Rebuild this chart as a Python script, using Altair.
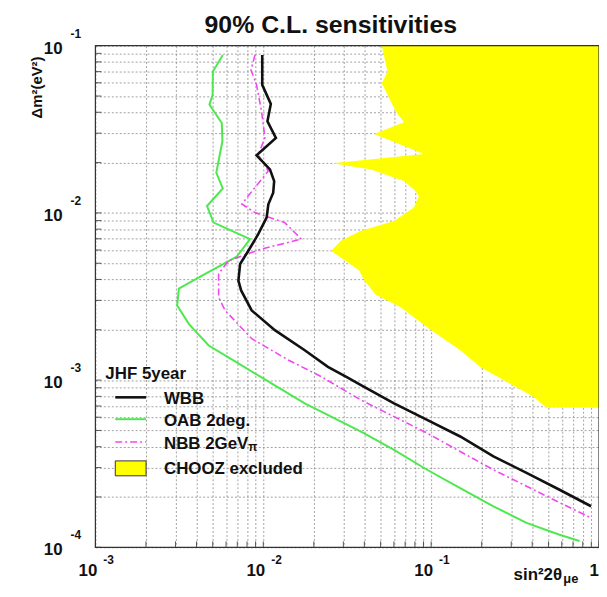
import altair as alt
import pandas as pd

# ---------------- data ----------------
wbb_x = [0.00986, 0.00986, 0.01109, 0.01059, 0.01189, 0.00912, 0.01096, 0.01161, 0.01146,
         0.01072, 0.01047, 0.00933, 0.00815, 0.00728, 0.00711, 0.00738, 0.00853, 0.01172,
         0.01766, 0.02427, 0.03184, 0.0382, 0.0601, 0.0946, 0.149, 0.235, 0.370, 0.582, 0.897]
wbb_y = [0.0881, 0.0583, 0.0448, 0.0353, 0.0281, 0.0221, 0.0182, 0.0155, 0.0132,
         0.01127, 0.00938, 0.00746, 0.00594, 0.00495, 0.00394, 0.00344, 0.00261, 0.00199,
         0.00151, 0.00120, 0.001035, 0.000933, 0.000726, 0.000578, 0.000460, 0.000350,
         0.000279, 0.000221, 0.000176]

oab_x = [0.00574, 0.00501, 0.00499, 0.00478, 0.00566, 0.00571, 0.00525, 0.00574, 0.00462,
         0.00506, 0.00834, 0.00695, 0.00432, 0.00314, 0.00307, 0.00360, 0.00473, 0.00711,
         0.01119, 0.01766, 0.0382, 0.0601, 0.0946, 0.149, 0.235, 0.370, 0.582, 0.766]
oab_y = [0.0881, 0.0700, 0.0509, 0.0444, 0.0345, 0.0269, 0.0174, 0.0140, 0.0110,
         0.00875, 0.00697, 0.00547, 0.00422, 0.00352, 0.00279, 0.00217, 0.00161, 0.00126,
         0.000955, 0.000726, 0.000492, 0.000383, 0.000291, 0.000226, 0.000176, 0.000140,
         0.000119, 0.000109]

nbb_x = [0.00893, 0.00845, 0.00912, 0.00977, 0.01023, 0.00933, 0.01072, 0.00893, 0.00745,
         0.00893, 0.01343, 0.01687, 0.00977, 0.00621, 0.00542, 0.00542, 0.00593, 0.00853,
         0.01406, 0.02213, 0.0382, 0.0601, 0.0946, 0.149, 0.235, 0.370, 0.582, 0.897]
nbb_y = [0.0881, 0.0716, 0.0583, 0.0405, 0.0281, 0.0223, 0.0178, 0.0142, 0.0113,
         0.01005, 0.00875, 0.00697, 0.00608, 0.00518, 0.00432, 0.00313, 0.00261, 0.00177,
         0.00132, 0.00105, 0.000760, 0.000605, 0.000482, 0.000374, 0.000291, 0.000232,
         0.000185, 0.000150]

chooz_x = [0.0508, 0.0550, 0.0508, 0.0615, 0.0689, 0.0458, 0.0906, 0.0259, 0.0438, 0.0689,
           0.0807, 0.0845, 0.0789, 0.0601, 0.0382, 0.0290, 0.0254, 0.0373, 0.0400, 0.0468,
           0.0658, 0.0946, 0.149, 0.196, 0.294, 0.406, 0.485]
chooz_y = [0.1, 0.0700, 0.0597, 0.0405, 0.0348, 0.0296, 0.0225, 0.0198, 0.0182, 0.0155,
           0.0135, 0.0126, 0.01076, 0.00895, 0.00782, 0.00681, 0.00594, 0.00452, 0.00394,
           0.00324, 0.00273, 0.00207, 0.00151, 0.00120, 0.000955, 0.000796, 0.000687]
chooz_edge = 1.0

x_decades = [0.001, 0.01, 0.1]
x_exps = ["-3", "-2", "-1"]
y_decades = [0.1, 0.01, 0.001, 0.0001]
y_exps = ["-1", "-2", "-3", "-4"]
mantissas = [1, 2, 3, 4, 5, 6, 7, 8, 9]

x_grid = [m * d for d in x_decades for m in mantissas] + [1.0]
y_grid = [m * d for d in [0.0001, 0.001, 0.01] for m in mantissas] + [0.1]

# ---------------- layout ----------------
W, H = 507, 505
FONT = "Liberation Sans"

xs = alt.Scale(type="log", domain=[0.001, 1], nice=False)
ys = alt.Scale(type="log", domain=[0.0001, 0.1], nice=False)
X_AX = alt.Axis(values=x_grid, grid=True, labels=False, ticks=False, domain=False, title=None,
                gridDash=[2, 2], gridColor="#8a8a8a", gridWidth=0.8)
Y_AX = alt.Axis(values=y_grid, grid=True, labels=False, ticks=False, domain=False, title=None,
                gridDash=[2, 2], gridColor="#8a8a8a", gridWidth=0.8)


def X(field="x"):
    return alt.X(f"{field}:Q", scale=xs, axis=X_AX, stack=None)


def Y(field="y"):
    return alt.Y(f"{field}:Q", scale=ys, axis=Y_AX, stack=None)


def curve_df(xv, yv):
    return pd.DataFrame({"x": xv, "y": yv, "i": list(range(len(xv)))})


dummy = pd.DataFrame({"a": [0]})

chooz_df = pd.DataFrame({"x": chooz_x, "y": chooz_y, "x2": [chooz_edge] * len(chooz_x)})
chooz = alt.Chart(chooz_df).mark_area(orient="horizontal", color="#ffff00", opacity=1).encode(
    x=X(), x2="x2:Q", y=Y())

wbb = alt.Chart(curve_df(wbb_x, wbb_y)).mark_line(color="#111111", strokeWidth=2.6).encode(
    x=X(), y=Y(), order="i:Q")
oab = alt.Chart(curve_df(oab_x, oab_y)).mark_line(color="#4ee84e", strokeWidth=2).encode(
    x=X(), y=Y(), order="i:Q")
nbb = alt.Chart(curve_df(nbb_x, nbb_y)).mark_line(color="#f048f0", strokeWidth=1.6,
                                                   strokeDash=[7, 3, 2, 3]).encode(
    x=X(), y=Y(), order="i:Q")

# inward ticks
xt_df = pd.DataFrame({"x": x_grid})
yt_df = pd.DataFrame({"y": y_grid})
xticks = alt.Chart(xt_df).mark_rule(color="#333", strokeWidth=0.8).encode(
    x=X(), y=alt.value(H), y2=alt.value(H - 6))
yticks = alt.Chart(yt_df).mark_rule(color="#333", strokeWidth=0.8).encode(
    y=Y(), x=alt.value(0), x2=alt.value(6))

frame = alt.Chart(dummy).mark_rect(filled=False, stroke="#333333", strokeWidth=1.2).encode(
    x=alt.value(0), x2=alt.value(W), y=alt.value(0), y2=alt.value(H))

# tick labels (ROOT style 10^n)
tl = dict(font=FONT, fontWeight="bold", color="#111")
xlab_df = pd.DataFrame({"x": x_decades, "e": x_exps})
xlab10 = alt.Chart(xlab_df).mark_text(align="right", baseline="alphabetic", dx=2, fontSize=17, **tl).encode(
    x=X(), y=alt.value(534), text=alt.value("10"))
xlabexp = alt.Chart(xlab_df).mark_text(align="left", baseline="alphabetic", dx=8, fontSize=12, **tl).encode(
    x=X(), y=alt.value(522), text="e:N")
xlab1 = alt.Chart(pd.DataFrame({"x": [1.0]})).mark_text(align="right", baseline="alphabetic", fontSize=17, **tl).encode(
    x=X(), y=alt.value(534), text=alt.value("1"))

ylab_df = pd.DataFrame({"y": y_decades, "e": y_exps})
ylab10 = alt.Chart(ylab_df).mark_text(align="right", baseline="alphabetic", dy=8, fontSize=17, **tl).encode(
    y=Y(), x=alt.value(-33), text=alt.value("10"))
ylabexp = alt.Chart(ylab_df).mark_text(align="left", baseline="alphabetic", dy=-8, fontSize=12, **tl).encode(
    y=Y(), x=alt.value(-25), text="e:N")

# titles
title = alt.Chart(dummy).mark_text(align="center", baseline="alphabetic", fontSize=25, **tl).encode(
    x=alt.value(237), y=alt.value(-13), text=alt.value("90% C.L. sensitivities"))
ytitle = alt.Chart(dummy).mark_text(align="center", baseline="alphabetic", angle=270, fontSize=15, **tl).encode(
    x=alt.value(-54), y=alt.value(42), text=alt.value("Δm²(eV²)"))
xtitle = alt.Chart(dummy).mark_text(align="left", baseline="alphabetic", fontSize=17, **tl).encode(
    x=alt.value(421), y=alt.value(538), text=alt.value("sin²2θ"))
xtitle_sub = alt.Chart(dummy).mark_text(align="left", baseline="alphabetic", fontSize=13, **tl).encode(
    x=alt.value(471), y=alt.value(541), text=alt.value("μe"))

# legend
lg = dict(font=FONT, fontWeight="bold", color="#111", fontSize=17, align="left", baseline="alphabetic")
leg_title = alt.Chart(dummy).mark_text(**lg).encode(x=alt.value(10), y=alt.value(336), text=alt.value("JHF 5year"))
leg_l1 = alt.Chart(dummy).mark_rule(color="#111111", strokeWidth=2.6).encode(
    x=alt.value(20), x2=alt.value(51), y=alt.value(354))
leg_t1 = alt.Chart(dummy).mark_text(**lg).encode(x=alt.value(69), y=alt.value(361), text=alt.value("WBB"))
leg_l2 = alt.Chart(dummy).mark_rule(color="#4ee84e", strokeWidth=2).encode(
    x=alt.value(20), x2=alt.value(51), y=alt.value(376))
leg_t2 = alt.Chart(dummy).mark_text(**lg).encode(x=alt.value(69), y=alt.value(383), text=alt.value("OAB 2deg."))
leg_l3 = alt.Chart(dummy).mark_rule(color="#f048f0", strokeWidth=1.6, strokeDash=[7, 3, 2, 3]).encode(
    x=alt.value(20), x2=alt.value(51), y=alt.value(399))
leg_t3 = alt.Chart(dummy).mark_text(**lg).encode(x=alt.value(69), y=alt.value(406), text=alt.value("NBB 2GeV"))
leg_t3b = alt.Chart(dummy).mark_text(font=FONT, fontWeight="bold", color="#111", fontSize=12, align="left",
                                     baseline="alphabetic").encode(
    x=alt.value(154), y=alt.value(408), text=alt.value("π"))
leg_box = alt.Chart(dummy).mark_rect(fill="#ffff00", stroke="#333333", strokeWidth=1).encode(
    x=alt.value(20), x2=alt.value(51), y=alt.value(418), y2=alt.value(433))
leg_t4 = alt.Chart(dummy).mark_text(**lg).encode(x=alt.value(69), y=alt.value(431), text=alt.value("CHOOZ excluded"))

chart = alt.layer(
    chooz, oab, nbb, wbb, xticks, yticks, frame,
    xlab10, xlabexp, xlab1, ylab10, ylabexp,
    title, ytitle, xtitle, xtitle_sub,
    leg_title, leg_l1, leg_t1, leg_l2, leg_t2, leg_l3, leg_t3, leg_t3b, leg_box, leg_t4,
).properties(
    width=W, height=H,
    autosize=alt.AutoSizeParams(type="none"),
    padding={"left": 88, "top": 36, "right": 0, "bottom": 40},
    background="white",
).configure_view(stroke=None)

chart.save("out.html", embed_options={"renderer": "svg", "actions": False})
